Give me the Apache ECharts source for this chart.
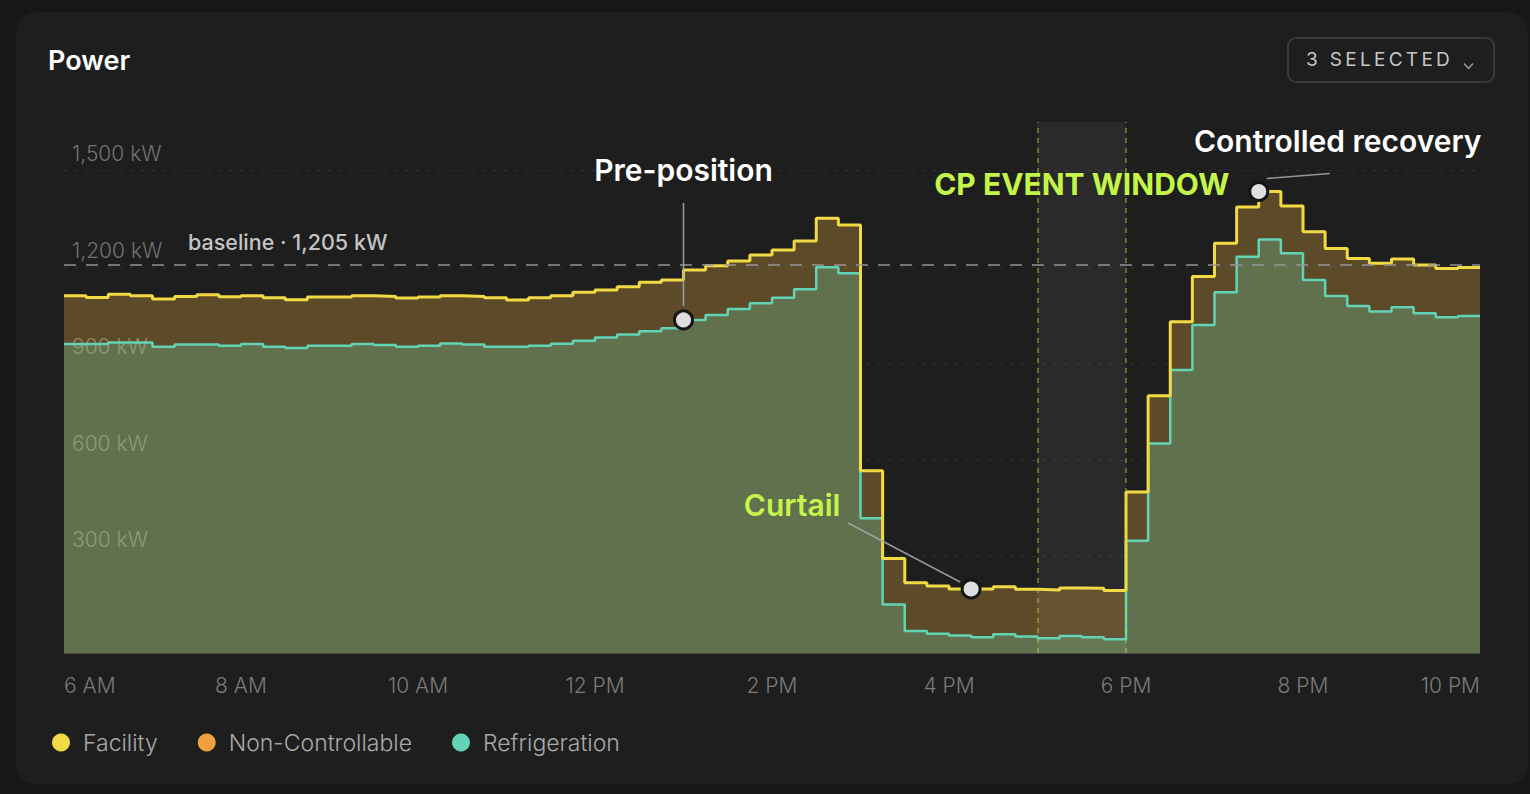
<!DOCTYPE html>
<html>
<head>
<meta charset="utf-8">
<script src="https://cdn.jsdelivr.net/npm/echarts@6/dist/echarts.min.js"></script>
<style>
  html, body { margin:0; padding:0; width:1530px; height:794px; overflow:hidden; background:#171717; }
  #card { position:absolute; left:16px; top:12px; width:1512px; height:772px; background:#1e1e1e; border-radius:20px; }
  #chart { position:absolute; left:0; top:0; width:1530px; height:794px; }
  #sel { position:absolute; left:1287px; top:37px; width:208px; height:46px; box-sizing:border-box;
         border:2px solid #393939; border-radius:9px; z-index:5; }
  #sel span { position:absolute; left:17px; top:0; line-height:42px; font-family:Inter, "Noto Sans", sans-serif;
              font-size:19px; font-weight:400; letter-spacing:3.3px; color:#c6c6c6; white-space:nowrap; }
  #sel svg { position:absolute; left:174px; top:23px; }
</style>
</head>
<body>
<div id="card"></div>
<div id="chart"></div>
<div id="sel"><span>3 SELECTED</span><svg width="11" height="8" viewBox="0 0 11 8"><polyline points="1,1.5 5.5,6.5 10,1.5" fill="none" stroke="#9a9a9a" stroke-width="1.5"/></svg></div>
<script>
// ---- data (15-minute slots from 6 AM to 10 PM) ----
const startHour = 6;
const slotHours = 0.25;
const facility = [
  1110,1105,1115,1110,1100,1108,1113,1107,1110,1104,
  1098,1106,1106,1110,1108,1103,1106,1110,1108,1104,
  1097,1104,1110,1121,1128,1138,1152,1159,1190,1203,
  1218,1237,1252,1280,1351,1330,566,294,218,208,
  199,199,206,198,196,202,201,194,500,799,
  1029,1170,1273,1386,1434,1389,1309,1257,1226,1211,
  1224,1206,1195,1198
];
const refrigeration = [
  960,960,965,965,952,959,959,955,960,952,
  948,955,955,960,957,952,955,962,959,952,
  952,955,961,970,980,990,1000,1009,1035,1050,
  1069,1087,1104,1130,1199,1180,419,151,68,60,
  54,49,58,51,46,53,49,43,349,651,
  879,1019,1121,1231,1285,1242,1159,1109,1078,1061,
  1074,1056,1043,1047
];
const xTicks = [6, 8, 10, 12, 14, 16, 18, 20, 22];
const yTicks = [300, 600, 900, 1200, 1500];
const baselineKW = 1205;
const eventWindow = [17, 18];           // 5 PM – 6 PM
const legendNames = ['Facility', 'Non-Controllable', 'Refrigeration'];

// annotations anchored to data slots
const annotations = [
  { text:'Pre-position', series:'refrigeration', slot:28, color:'#ffffff', textOffset:[0,-150], leader:[[0,-14],[0,-117]] },
  { text:'Curtail', series:'facility', slot:41, color:'#c5f54a', textOffset:[-179,-84], leader:[[-11,-7],[-123,-66]] },
  { text:'Controlled recovery', series:'facility', slot:54, color:'#ffffff', textOffset:[79,-51], leader:[[8,-13],[71,-18]] }
];

// ---- helpers ----
const slotTime = i => startHour + i * slotHours;
function toStepPoints(arr) {
  const pts = arr.map((v, i) => [slotTime(i), v]);
  pts.push([slotTime(arr.length), arr[arr.length - 1]]); // close final slot
  return pts;
}
const facilityPts = toStepPoints(facility);
const refrigerationPts = toStepPoints(refrigeration);
const seriesValues = { facility, refrigeration };

function hourLabel(h) {
  if (h === 12) return '12 PM';
  if (h === 24 || h === 0) return '12 AM';
  return h < 12 ? h + ' AM' : (h - 12) + ' PM';
}

const FONT = 'Inter, "Noto Sans", sans-serif';
const YELLOW = '#f2da45', ORANGE = '#f0a03c', TEAL = '#62d3b4', LIME = '#c5f54a';
const ANN_SIZE = 30;

function markPointsFor(key) {
  return annotations.filter(a => a.series === key).map(a => ({
    coord: [slotTime(a.slot), seriesValues[key][a.slot]],
    label: { show:true, formatter:a.text, position:'inside', offset:a.textOffset, color:a.color,
             fontFamily:FONT, fontSize:ANN_SIZE, fontWeight:600 }
  }));
}
const markPointStyle = {
  symbol:'circle', symbolSize:18, silent:true,
  itemStyle:{ color:'#dedede', borderColor:'#151515', borderWidth:3 }
};

const chart = echarts.init(document.getElementById('chart'), null, { renderer:'svg' });
chart.setOption({
  animation:false,
  backgroundColor:'transparent',
  title:{ text:'Power', left:43, top:42, textStyle:{ color:'#ffffff', fontFamily:FONT, fontSize:27, fontWeight:600 } },
  grid:{ left:64, right:50, top:122, bottom:141, containLabel:false },
  legend:{
    data:legendNames, left:47, top:726, icon:'circle', itemWidth:18, itemHeight:18, itemGap:40,
    textStyle:{ color:'#a9a9a9', fontFamily:FONT, fontSize:23, fontWeight:300, padding:[0,0,0,8] }
  },
  xAxis:{
    type:'value', min:xTicks[0], max:xTicks[xTicks.length-1], interval:2,
    axisLine:{ show:true, lineStyle:{ color:'#4a4a4a', width:1 } },
    axisTick:{ show:false }, splitLine:{ show:false },
    axisLabel:{ formatter:hourLabel, color:'#7a7a7a', fontFamily:FONT, fontSize:21, fontWeight:300, margin:22,
                alignMinLabel:'left', alignMaxLabel:'right' }
  },
  yAxis:{
    type:'value', min:0, max:1650, interval:300,
    axisLine:{ show:false }, axisTick:{ show:false },
    axisLabel:{ inside:true, showMinLabel:false, showMaxLabel:false, margin:8,
                formatter: v => yTicks.includes(v) ? v.toLocaleString('en-US') + ' kW' : '',
                color:'#727272', fontFamily:FONT, fontSize:21, fontWeight:300, verticalAlign:'bottom', padding:[0,0,6,0] },
    splitLine:{ show:true, showMinLine:false, showMaxLine:false, lineStyle:{ color:'#343434', type:[3,8], width:1 } }
  },
  series:[
    {
      name:'Facility', type:'line', step:'end', data:facilityPts, symbol:'none', z:1, silent:true,
      itemStyle:{ color:YELLOW }, lineStyle:{ width:0, opacity:0 },
      areaStyle:{ color:'rgba(240,180,70,0.30)', opacity:1 },
      markArea:{
        silent:true,
        itemStyle:{ color:'rgba(255,255,255,0.053)' },
        label:{ show:true, position:'insideTop', distance:0, offset:[0,47], formatter:'CP EVENT WINDOW',
                color:LIME, fontFamily:FONT, fontSize:ANN_SIZE, fontWeight:700 },
        data:[[ { xAxis:eventWindow[0] }, { xAxis:eventWindow[1] } ]]
      }
    },
    {
      name:'Refrigeration', type:'line', step:'end', data:refrigerationPts, symbol:'none', z:2, silent:true,
      itemStyle:{ color:TEAL }, lineStyle:{ color:TEAL, width:2.5 },
      areaStyle:{ color:'rgba(110,210,170,0.29)', opacity:1 },
      markPoint:Object.assign({ data:markPointsFor('refrigeration') }, markPointStyle)
    },
    {
      name:'Facility', type:'line', step:'end', data:facilityPts, symbol:'none', z:3, silent:true,
      itemStyle:{ color:YELLOW }, lineStyle:{ color:YELLOW, width:3 },
      markLine:{
        silent:true, symbol:'none', animation:false,
        data:[
          { yAxis:baselineKW,
            lineStyle:{ color:'rgba(150,150,150,0.75)', type:[12,10], width:2 },
            label:{ show:true, position:'insideStartTop', distance:[124,12], formatter:'baseline · 1,205 kW',
                    color:'#c4c4c4', fontFamily:FONT, fontSize:21.5, fontWeight:500 } },
          { xAxis:eventWindow[0], lineStyle:{ color:'rgba(180,225,70,0.55)', type:[5,5], width:1.5 }, label:{ show:false } },
          { xAxis:eventWindow[1], lineStyle:{ color:'rgba(180,225,70,0.55)', type:[5,5], width:1.5 }, label:{ show:false } }
        ]
      },
      markPoint:Object.assign({ data:markPointsFor('facility') }, markPointStyle)
    },
    {
      name:'Non-Controllable', type:'line', data:[], symbol:'none',
      itemStyle:{ color:ORANGE }, lineStyle:{ color:ORANGE }
    }
  ]
});

// leader lines for annotations, anchored at the data point in pixel space
const leaders = annotations.map(a => {
  const p = chart.convertToPixel({ xAxisIndex:0, yAxisIndex:0 }, [slotTime(a.slot), seriesValues[a.series][a.slot]]);
  return {
    type:'line', z:100, silent:true,
    shape:{ x1:p[0]+a.leader[0][0], y1:p[1]+a.leader[0][1], x2:p[0]+a.leader[1][0], y2:p[1]+a.leader[1][1] },
    style:{ stroke:'rgba(170,170,170,0.85)', lineWidth:1.6 }
  };
});
chart.setOption({ graphic:leaders });
</script>
</body>
</html>
